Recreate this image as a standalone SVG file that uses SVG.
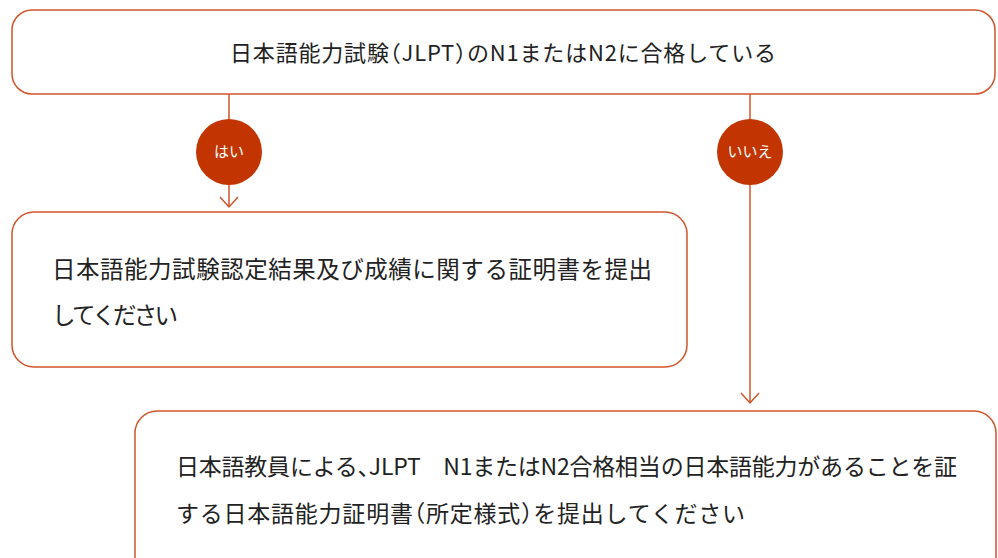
<svg xmlns="http://www.w3.org/2000/svg" width="998" height="558" viewBox="0 0 998 558">
<defs>
<style>
.box{fill:#ffffff;stroke:#d2542a;stroke-width:1.5}
.line{fill:none;stroke:#d2542a;stroke-width:1.5}
.badge{fill:#c23500}
.t{font-family:"Noto Sans CJK JP","Noto Sans",sans-serif;fill:#222222}
.p{font-feature-settings:"halt"}
.bt{font-family:"Noto Sans CJK JP","Noto Sans",sans-serif;fill:#ffffff;font-size:15px;text-anchor:middle}
</style>
</defs>
<rect width="998" height="558" fill="#ffffff"/>
<g id="connectors">
<path class="line" d="M229 94 V207 M220 197 L229 207 L238 197"/>
<path class="line" d="M750 94 V403 M741 393 L750 403 L759 393"/>
</g>
<g id="q1">
<rect class="box" x="12" y="10" width="983" height="84" rx="20"/>
<text class="t" x="230" y="61" font-size="22" textLength="546" lengthAdjust="spacing">日本語能力試験<tspan class="p">（</tspan>JLPT<tspan class="p">）</tspan>のN1またはN2に合格している</text>
</g>
<g id="yes">
<circle class="badge" cx="229" cy="152" r="33"/>
<text class="bt" x="229" y="157">はい</text>
</g>
<g id="no">
<circle class="badge" cx="750" cy="152" r="33"/>
<text class="bt" x="750" y="157">いいえ</text>
</g>
<g id="a1">
<rect class="box" x="12" y="212" width="675" height="155" rx="22"/>
<text class="t" x="52" y="278" font-size="23.5" textLength="600" lengthAdjust="spacing">日本語能力試験認定結果及び成績に関する証明書を提出</text>
<text class="t" x="52" y="324" font-size="23.5" textLength="126" lengthAdjust="spacing">してください</text>
</g>
<g id="a2">
<rect class="box" x="135" y="411" width="861" height="200" rx="22"/>
<text class="t" x="176" y="475" font-size="23" textLength="781" lengthAdjust="spacing">日本語教員による<tspan class="p">、</tspan>JLPT　N1またはN2合格相当の日本語能力があることを証</text>
<text class="t" x="176" y="522" font-size="23" textLength="569" lengthAdjust="spacing">する日本語能力証明書<tspan class="p">（</tspan>所定様式<tspan class="p">）</tspan>を提出してください</text>
</g>
</svg>
